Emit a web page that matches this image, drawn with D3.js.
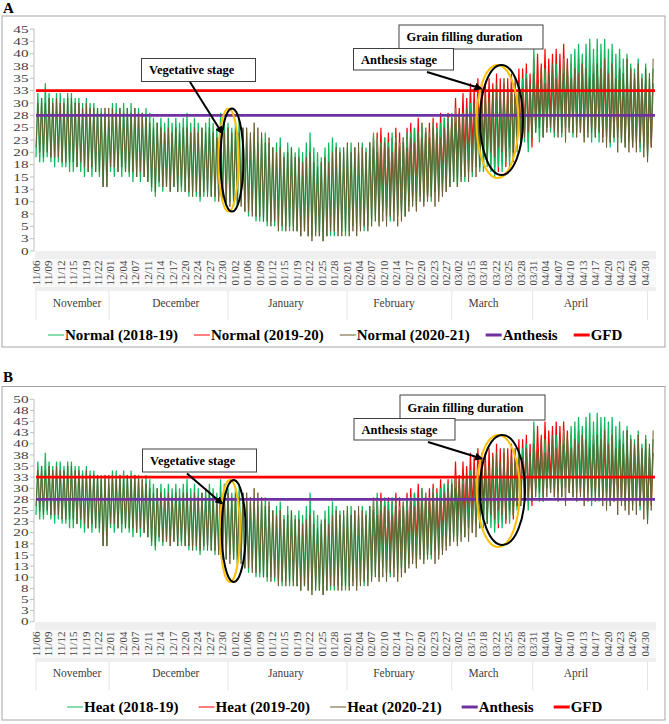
<!DOCTYPE html>
<html>
<head>
<meta charset="utf-8">
<script src="https://cdn.jsdelivr.net/npm/d3@7/dist/d3.min.js"></script>
<style>
body { margin: 0; background: #fff; }
svg { display: block; }
text { font-family: "Liberation Serif", "Times New Roman", serif; }
</style>
</head>
<body>
<script>
var w = 669, h = 724;

// x axis: one category per day, labels every 10/3 days
var dateLabels = ["11/06","11/09","11/12","11/15","11/19","11/22","12/01","12/04","12/07","12/11",
  "12/14","12/17","12/20","12/24","12/27","12/30","01/02","01/06","01/09","01/12",
  "01/15","01/19","01/22","01/25","01/28","02/01","02/04","02/07","02/10","02/14",
  "02/17","02/20","02/23","02/27","03/02","03/15","03/18","03/22","03/25","03/28",
  "03/31","04/04","04/07","04/10","04/13","04/17","04/20","04/23","04/26","04/30"];
var labelStep = 10 / 3;
// month name, first day, last day, label day
var months = [["November", 0, 19.6, 11], ["December", 19.6, 51.5, 37.5], ["January", 51.5, 83.4, 67],
  ["February", 83.4, 111.5, 96], ["March", 111.5, 133.2, 120], ["April", 133.2, 164, 144.8]];

var anthesisTemp = 27.5;
var gfdTemp = 32.5;

// daily max / min, Normal
var normalGreenMax = [32,31,34,32,31,32,32,31,32,32, 31,31,30,31,30,30,29,29,28,27,
  30,30,29,30,29,30,29,29,28,29, 28,27,26,27,26,27,26,27,26,27, 28,26,27,26,25,26,27,26,25,28,
  27,26,25,26,27,25,24,23,24,22, 23,24,22,21,22,23,20,22,21,20, 21,20,22,24,21,20,19,21,22,23,
  22,21,20,21,22,21,20,22,21,22, 24,23,22,23,22,24,23,22,23,24, 24,25,24,26,25,24,26,25,26,27,
  27,28,29,27,28,29,30,29,28,30, 31,30,32,31,30,32,31,33,32,34, 35,36,33,41,34,35,37,33,36,38,
  36,39,37,40,41,42,40,42,43,41, 43,42,43,41,42,40,41,39,40,38, 37,39,36,38,35,37];
var normalGreenMin = [19,18,18,19,18,17,18,17,17,16, 16,17,16,15,16,15,16,15,13,13,
  16,15,16,15,16,15,14,15,14,15, 14,12,11,13,12,13,12,13,12,12, 12,11,12,11,10,11,12,11,10,11,
  10,9,10,9,9,10,8,7,8,6, 6,6,5,6,5,5,4,5,4,5, 4,3,4,3,3,4,3,2,3,3,
  3,4,4,3,4,5,4,5,4,5, 6,7,6,8,7,6,8,7,8,7, 9,10,9,11,10,11,10,12,11,12,
  12,13,14,13,15,14,16,15,17,16, 16,17,16,15,17,16,18,17,19,20, 21,22,20,23,24,22,23,25,24,23,
  24,23,25,24,23,24,25,23,24,22, 23,22,24,23,21,22,23,22,21,22, 21,22,20,21,19,22];
var normalRedStart = 90;
var normalRedMax = [23,24,25,23,24,23,25,24,23,25, 26,25,27,26,25,26,27,26,28,27,
  28,27,31,29,32,31,34,33,35,34, 34,35,34,36,35,34,35,36,34,37, 37,38,36,39,40,38,41,39,40,41,
  40,42,39,38,37,39,38,36,37,38, 37,38,36,37,35,36,37,35,36,34, 35,36,34,35,33,34];
var normalRedMin = [11,10,11,10,9,10,11,10,9,10, 12,11,12,13,12,11,13,12,13,14,
  15,16,17,18,17,19,18,20,19,21, 20,18,19,17,16,18,17,19,18,21, 23,24,22,21,25,26,24,25,26,25,
  26,25,27,24,25,26,24,25,26,25, 24,25,23,24,22,23,24,23,22,23, 22,23,21,22,20,21];
var normalOliveMax = [30,31,30,31,30,31,30,30,31,31, 30,30,29,30,29,29,29,28,29,29,
  29,28,29,28,29,28,29,28,28,27, 26,25,26,25,24,25,24,25,24,25, 25,24,25,24,25,24,25,24,23,24,
  24,25,24,25,24,25,25,24,26,25, 24,22,23,21,20,21,19,20,21,19, 19,18,19,20,18,17,18,19,18,20,
  21,20,21,22,20,21,22,21,20,22, 21,20,21,22,21,20,22,21,22,21, 23,22,24,23,24,23,25,24,23,25,
  26,27,26,28,27,29,28,30,29,31, 32,31,33,34,32,35,33,34,35,33, 33,35,34,36,35,37,34,36,38,35,
  37,36,38,35,37,36,38,37,35,36, 38,37,39,36,38,35,37,36,39,37, 36,38,35,37,36,39];
var normalOliveMin = [21,20,19,20,19,19,19,18,18,18, 18,17,18,17,16,17,16,16,13,13,
  17,17,16,17,16,16,16,15,16,15, 14,13,12,14,13,13,12,13,12,13, 12,12,11,12,11,12,11,11,11,10,
  10,10,9,10,9,9,8,8,7,7, 7,6,6,5,6,4,5,4,5,4, 4,3,4,3,2,3,3,2,3,4,
  4,3,3,4,3,4,3,4,5,4, 5,6,5,6,5,7,6,5,6,7, 8,9,8,10,9,10,11,9,10,11,
  12,13,14,13,14,15,14,16,15,17, 19,18,20,19,21,20,19,21,20,22, 22,23,24,23,24,25,23,24,25,24,
  23,24,22,25,24,23,24,22,23,24, 23,24,22,21,22,23,20,22,21,20, 21,20,22,19,18,21];

// daily max / min, Heat
var heatGreenMax = [36,35,38,36,35,36,36,35,36,36, 35,35,34,35,34,34,33,33,32,31,
  34,34,33,34,33,34,33,33,32,33, 32,31,30,31,30,31,30,31,30,31, 32,30,31,30,29,30,31,30,29,32,
  31,30,29,30,31,29,28,27,28,26, 27,28,26,25,26,27,24,26,25,24, 25,24,26,29,25,24,23,25,26,27,
  26,25,24,25,26,25,24,26,25,26, 28,29,27,28,27,28,27,26,27,28, 28,29,28,30,29,28,30,29,30,31,
  31,32,33,31,32,33,34,33,32,34, 35,34,36,35,34,36,35,37,36,38, 39,40,37,45,38,39,41,37,40,42,
  40,43,41,44,45,46,44,46,47,45, 47,46,46,45,46,44,45,43,44,42, 41,43,40,42,39,41];
var heatGreenMin = [24,23,23,24,23,22,23,22,22,21, 21,22,21,20,21,20,21,20,17,17,
  21,20,21,20,21,20,19,20,19,20, 19,17,16,18,17,18,17,18,17,17, 17,16,17,16,15,16,17,16,15,16,
  15,14,15,14,13,14,12,11,12,10, 10,10,9,10,9,9,8,9,8,9, 8,7,8,7,7,8,7,6,7,7,
  7,8,8,7,8,9,8,9,8,9, 10,11,10,12,11,10,12,11,12,11, 13,14,13,15,14,15,14,16,15,16,
  17,18,19,18,20,19,21,20,22,21, 21,22,21,20,22,21,23,22,24,25, 26,27,25,28,29,27,28,30,29,28,
  29,28,30,29,28,29,30,28,29,26, 28,27,29,28,26,27,28,27,26,27, 26,27,25,26,23,27];
var heatRedStart = 90;
var heatRedMax = [27,28,29,27,28,27,29,28,27,29, 30,29,31,30,29,30,31,30,32,31,
  32,31,36,33,36,35,38,37,39,38, 38,39,38,40,39,38,39,40,38,41, 41,42,40,43,44,42,45,43,44,45,
  44,45,43,42,41,43,42,40,41,42, 41,42,40,41,39,40,41,39,40,38, 39,40,38,39,37,38];
var heatRedMin = [16,15,16,15,14,15,16,15,14,15, 17,16,17,18,17,16,18,17,18,19,
  20,21,22,23,22,24,23,25,24,26, 25,23,24,22,21,23,22,24,23,26, 28,29,27,26,30,31,29,30,31,30,
  31,30,32,29,30,31,29,30,31,30, 29,30,28,29,27,28,29,28,27,28, 27,28,26,27,25,26];
var heatOliveMax = [34,35,34,35,34,35,34,34,35,35, 34,34,33,34,33,33,33,32,33,33,
  33,32,33,32,33,32,33,32,32,31, 30,29,30,29,28,29,28,29,28,29, 29,28,29,28,29,28,29,28,27,28,
  28,29,28,29,28,29,29,28,30,29, 28,26,27,25,24,25,23,24,25,23, 23,22,23,24,22,21,22,23,22,24,
  25,24,25,26,24,25,26,25,24,26, 25,24,25,26,25,24,26,25,26,25, 27,26,28,27,28,27,29,28,27,29,
  30,31,30,32,31,33,32,34,33,35, 36,35,37,38,36,39,37,38,39,37, 37,39,38,40,39,41,38,40,42,39,
  41,40,42,39,41,40,42,41,39,40, 42,41,43,40,42,39,41,40,43,41, 40,42,39,41,40,43];
var heatOliveMin = [26,25,24,25,24,24,24,23,23,23, 23,22,23,22,21,22,21,21,17,17,
  22,22,21,22,21,21,21,20,21,20, 19,18,17,19,18,18,17,18,17,18, 17,17,16,17,16,17,16,16,16,15,
  14,14,13,14,13,13,12,12,11,11, 11,10,10,9,10,8,9,8,9,8, 8,7,8,7,6,7,7,6,7,8,
  8,7,7,8,7,8,7,8,9,8, 9,10,9,10,9,11,10,9,10,11, 12,13,12,14,13,14,15,13,14,15,
  16,17,18,17,18,19,18,20,19,21, 23,22,24,23,25,24,23,25,24,26, 26,27,28,27,28,29,27,28,29,28,
  27,28,26,29,28,27,28,26,27,28, 27,28,26,25,26,27,24,26,25,24, 25,24,26,23,22,25];

var green = "#12b85c", red = "#ff0000", olive = "#6e5c2f", purple = "#7030a0";

var panels = [
  { letter: "A", letterY: 12.5, frame: [2, 16, 663, 331], yTop: 29, yBot: 251, yMax: 45,
    band: [251, 291], monthBand: [291, 320], legendY: 335, legendX: 48, gap: 16,
    series: [
      { name: "Normal (2018-19)", color: green, max: normalGreenMax, min: normalGreenMin, start: 0, order: 1, lw: 1.25 },
      { name: "Normal (2019-20)", color: red, max: normalRedMax, min: normalRedMin, start: normalRedStart, order: 0, lw: 1.2 },
      { name: "Normal (2020-21)", color: olive, max: normalOliveMax, min: normalOliveMin, start: 0, order: 2, lw: 0.95 }],
    veg: { box: [141.5, 58.5, 114, 23], arrow: [190, 82, 222, 133], ell: [[228.5, 160, 10, 51.5], [232, 160, 11.5, 51.5]] },
    gfd: { box: [399, 25, 144, 24] },
    anth: { box: [353.5, 48.5, 100, 21.5], arrow: [427, 72, 481, 88.5], ell: [[497.5, 121.5, 21, 56.5], [501.5, 120, 21.5, 55]] } },
  { letter: "B", letterY: 382, frame: [2, 386.5, 663, 333.5], yTop: 399.3, yBot: 621.7, yMax: 50,
    band: [622, 662], monthBand: [662, 690], legendY: 707, legendX: 67, gap: 20,
    series: [
      { name: "Heat (2018-19)", color: green, max: heatGreenMax, min: heatGreenMin, start: 0, order: 1, lw: 1.25 },
      { name: "Heat (2019-20)", color: red, max: heatRedMax, min: heatRedMin, start: heatRedStart, order: 0, lw: 1.2 },
      { name: "Heat (2020-21)", color: olive, max: heatOliveMax, min: heatOliveMin, start: 0, order: 2, lw: 0.95 }],
    veg: { box: [142.5, 449, 114, 23], arrow: [187, 473.5, 222, 503.5], ell: [[230, 531, 10, 51], [233.7, 531, 12, 51]] },
    gfd: { box: [400, 395, 145, 25] },
    anth: { box: [354, 418.5, 101, 21.5], arrow: [428, 442, 481.5, 458.5], ell: [[498.3, 491, 21.5, 56], [502.5, 490, 22.5, 55]] } }
];

var svg = d3.select("body").append("svg")
  .attr("width", w)
  .attr("height", h);

var defs = svg.append("defs");
defs.append("marker")
  .attr("id", "head")
  .attr("viewBox", "0 0 10 10")
  .attr("refX", 8).attr("refY", 5)
  .attr("markerWidth", 4).attr("markerHeight", 4)
  .attr("orient", "auto")
  .append("path")
  .attr("d", "M0,0L10,5L0,10Z")
  .attr("fill", "#000");

var x = d3.scaleLinear().domain([0, 500 / 3]).range([36, 657.5]);

function drawPanel(p) {
  var g = svg.append("g");
  var y = d3.scaleLinear().domain([0, p.yMax]).range([p.yBot, p.yTop]);

  g.append("text").attr("x", 3).attr("y", p.letterY)
    .attr("font-size", 15).attr("font-weight", "bold").text(p.letter);

  g.append("rect")
    .attr("x", p.frame[0]).attr("y", p.frame[1])
    .attr("width", p.frame[2]).attr("height", p.frame[3])
    .attr("fill", "#fff").attr("stroke", "#a6a6a6");

  // y axis
  var ticks = d3.range(0, p.yMax + 0.01, 2.5);
  g.append("line").attr("x1", 34).attr("x2", 34)
    .attr("y1", y(p.yMax)).attr("y2", y(0)).attr("stroke", "#bfbfbf");
  g.selectAll(".yt").data(ticks).enter().append("line")
    .attr("x1", 30).attr("x2", 34)
    .attr("y1", function (d) { return y(d); })
    .attr("y2", function (d) { return y(d); })
    .attr("stroke", "#bfbfbf");
  g.selectAll(".yl").data(ticks).enter().append("text")
    .attr("transform", function (d) { return "translate(28.5," + y(d) + ") scale(1.45,1)"; })
    .attr("dy", "0.35em")
    .attr("text-anchor", "end")
    .attr("font-size", 10.5)
    .attr("fill", "#404040")
    .text(function (d) { return Math.round(d); });

  // date band
  g.append("rect").attr("x", 35).attr("y", p.band[0])
    .attr("width", 621).attr("height", p.band[1] - p.band[0]).attr("fill", "#efefef");
  g.append("rect").attr("x", 35).attr("y", p.band[0] + 8)
    .attr("width", 621).attr("height", p.band[1] - p.band[0] - 12).attr("fill", "#f8f8f8");
  g.selectAll(".dl").data(dateLabels).enter().append("text")
    .attr("transform", function (d, i) {
      return "translate(" + x(i * labelStep) + "," + (p.band[0] + 9.5) + ") rotate(-90)";
    })
    .attr("dy", "0.35em")
    .attr("text-anchor", "end")
    .attr("font-size", 11)
    .attr("fill", "#404040")
    .text(function (d) { return d; });

  // months
  var seps = [0].concat(months.map(function (m) { return m[2]; }));
  g.selectAll(".ms").data(seps).enter().append("line")
    .attr("x1", function (d) { return x(d); })
    .attr("x2", function (d) { return x(d); })
    .attr("y1", p.monthBand[0]).attr("y2", p.monthBand[1])
    .attr("stroke", "#e3e3e3");
  g.selectAll(".ml").data(months).enter().append("text")
    .attr("x", function (d) { return x(d[3]); })
    .attr("y", (p.monthBand[0] + p.monthBand[1]) / 2 - 3)
    .attr("dy", "0.35em")
    .attr("text-anchor", "middle")
    .attr("font-size", 11.5)
    .attr("fill", "#404040")
    .text(function (d) { return d[0]; });

  // series, red underneath
  var line = d3.line()
    .x(function (d) { return x(d[0]); })
    .y(function (d) { return y(d[1]); });
  p.series.slice().sort(function (a, b) { return a.order - b.order; }).forEach(function (s) {
    var pts = [];
    s.max.forEach(function (v, i) {
      pts.push([s.start + i, s.min[i]]);
      pts.push([s.start + i + 0.5, v]);
    });
    g.append("path").attr("d", line(pts))
      .attr("fill", "none").attr("stroke", s.color).attr("stroke-width", s.lw);
  });

  // threshold lines
  [[anthesisTemp, purple], [gfdTemp, red]].forEach(function (t) {
    g.append("line").attr("x1", 36).attr("x2", 655)
      .attr("y1", y(t[0])).attr("y2", y(t[0]))
      .attr("stroke", t[1]).attr("stroke-width", 2.6);
  });

  // annotations
  function box(b, txt) {
    g.append("rect").attr("x", b[0]).attr("y", b[1]).attr("width", b[2]).attr("height", b[3])
      .attr("fill", "#fff").attr("stroke", "#404040");
    g.append("text").attr("x", b[0] + 7.5).attr("y", b[1] + b[3] / 2).attr("dy", "0.35em")
      .attr("font-size", 12.5).attr("font-weight", "bold").text(txt);
  }
  function ellipses(list) {
    g.append("ellipse").attr("cx", list[0][0]).attr("cy", list[0][1]).attr("rx", list[0][2]).attr("ry", list[0][3])
      .attr("fill", "none").attr("stroke", "#ffc000").attr("stroke-width", 2);
    g.append("ellipse").attr("cx", list[1][0]).attr("cy", list[1][1]).attr("rx", list[1][2]).attr("ry", list[1][3])
      .attr("fill", "none").attr("stroke", "#000").attr("stroke-width", 2);
  }
  function arrow(a) {
    g.append("line").attr("x1", a[0]).attr("y1", a[1]).attr("x2", a[2]).attr("y2", a[3])
      .attr("stroke", "#000").attr("stroke-width", 2).attr("marker-end", "url(#head)");
  }
  ellipses(p.veg.ell);
  ellipses(p.anth.ell);
  box(p.veg.box, "Vegetative stage");
  arrow(p.veg.arrow);
  box(p.gfd.box, "Grain filling duration");
  box(p.anth.box, "Anthesis stage");
  arrow(p.anth.arrow);

  // legend
  var items = p.series.map(function (s) { return { name: s.name, color: s.color, lw: 2, op: 0.5 }; })
    .concat([{ name: "Anthesis", color: purple, lw: 3, op: 1 }, { name: "GFD", color: red, lw: 3, op: 1 }]);
  var lx = p.legendX;
  items.forEach(function (it) {
    g.append("line").attr("x1", lx).attr("x2", lx + 16)
      .attr("y1", p.legendY).attr("y2", p.legendY)
      .attr("stroke", it.color).attr("stroke-width", it.lw).attr("opacity", it.op);
    var t = g.append("text").attr("x", lx + 17).attr("y", p.legendY).attr("dy", "0.35em")
      .attr("font-size", 15).attr("font-weight", "bold").text(it.name);
    lx += 17 + t.node().getComputedTextLength() + p.gap;
  });
}

panels.forEach(drawPanel);
</script>
</body>
</html>
